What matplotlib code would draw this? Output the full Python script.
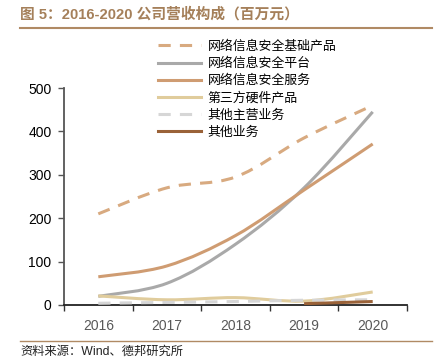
import numpy as np
import matplotlib
matplotlib.use('Agg')
from matplotlib import pyplot as plt
from matplotlib.path import Path
from matplotlib.patches import PathPatch
from matplotlib.lines import Line2D

plt.rcParams['font.family'] = ['Liberation Sans', 'Noto Sans CJK SC', 'DejaVu Sans']

years = ['2016', '2017', '2018', '2019', '2020']
base_products = [210, 270, 295, 385, 460]
platform = [20, 50, 140, 270, 445]
services = [65, 90, 160, 265, 371]
hardware = [21, 12, 17, 9, 30]
other_main = [4, 6, 8, 11, 12]
other_biz = [None, None, None, 3, 8]

series = [
	('网络信息安全基础产品', base_products, '#d8aa80', (0, (4, 3))),
	('网络信息安全平台', platform, '#a9a9a9', '-'),
	('网络信息安全服务', services, '#cf9c72', '-'),
	('第三方硬件产品', hardware, '#e0cc9c', '-'),
	('其他主营业务', other_main, '#d6d6d6', (0, (4, 3))),
	('其他业务', other_biz, '#9a6238', '-'),
]

def smooth_path(xs, ys):
	# Catmull-Rom curve through the points, drawn as cubic Bezier segments
	pts = np.column_stack([xs, ys]).astype(float)
	verts = [pts[0]]
	codes = [Path.MOVETO]
	n = len(pts)
	for i in range(n - 1):
		p0 = pts[i - 1] if i > 0 else pts[i]
		p1 = pts[i]
		p2 = pts[i + 1]
		p3 = pts[i + 2] if i + 2 < n else pts[i + 1]
		c1 = p1 + (p2 - p0) / 6.0
		c2 = p2 - (p3 - p1) / 6.0
		verts += [c1, c2, p2]
		codes += [Path.CURVE4] * 3
	return Path(verts, codes)

fig = plt.figure(figsize=(4.38, 3.59), dpi=100)
ax = fig.add_axes([64/438, 54/359, 343/438, 217/359])

handles = []
for name, vals, color, ls in series:
	xs = [i for i, v in enumerate(vals) if v is not None]
	ys = [v for v in vals if v is not None]
	patch = PathPatch(smooth_path(xs, ys), facecolor='none', edgecolor=color,
					  lw=2.2, linestyle=ls, capstyle='butt', zorder=3)
	ax.add_patch(patch)
	handles.append(Line2D([], [], color=color, lw=2.2, linestyle=ls, label=name))

ax.set_xlim(-0.5, 4.5)
ax.set_ylim(0, 500)
ax.set_yticks(np.arange(0, 501, 100))
ax.set_xticks(np.arange(-0.5, 4.6, 1))
ax.set_xticklabels([])
ax.set_xticks(range(5), minor=True)
ax.set_xticklabels(years, minor=True)
ax.tick_params(axis='x', which='minor', length=0, pad=10, labelsize=10, labelcolor='#595959')
ax.tick_params(axis='x', which='major', length=4, width=1, color='#333333')
ax.tick_params(axis='y', length=4, width=1, color='#555555', labelsize=10, pad=5)
for s in ['top', 'right']:
	ax.spines[s].set_visible(False)
ax.spines['left'].set_color('#555555')
ax.spines['left'].set_linewidth(1.3)
ax.spines['bottom'].set_color('#222222')
ax.spines['bottom'].set_linewidth(1.3)

leg = ax.legend(handles=handles, loc='upper left', bbox_to_anchor=(0.24, 1.275),
				frameon=False, handlelength=3.3, handletextpad=0.55, labelspacing=0.32,
				prop={'family': ['Noto Sans CJK SC'], 'size': 9.3})

fig.text(20/438, 1 - 14/359, '图 5：2016-2020 公司营收构成（百万元）', fontsize=10.6,
		 fontweight='bold', color='#a5805a', va='center', ha='left',
		 family=['Liberation Sans', 'Noto Sans CJK SC'])
fig.add_artist(Line2D([20/438, 432/438], [1 - 28/359, 1 - 28/359],
					  color='#b08a64', lw=1.5))
fig.add_artist(Line2D([20/438, 432/438], [1 - 341/359, 1 - 341/359],
					  color='#b08a64', lw=1.0))
fig.text(20/438, 1 - 352/359, '资料来源：Wind、德邦研究所', fontsize=8.8,
		 color='#222222', va='center', ha='left',
		 family=['Liberation Sans', 'Noto Sans CJK SC'])

fig.savefig('out.png', dpi=100)
